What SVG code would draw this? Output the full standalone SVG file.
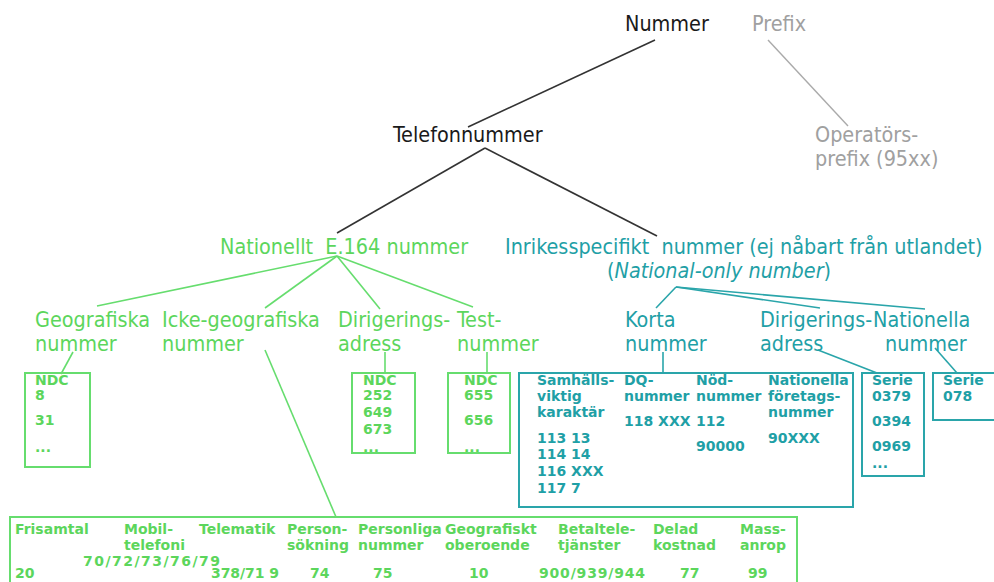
<svg xmlns="http://www.w3.org/2000/svg" width="994" height="582" viewBox="0 0 994 582">
<style>
.lbl{font-family:"DejaVu Sans Condensed","DejaVu Sans",sans-serif;font-size:21.4px;font-stretch:condensed}
.blk{fill:#1a1a1a}
.gry{fill:#a0a0a0}
.grn{fill:#5cd65c}
.tea{fill:#1fa0a6}
.bt{font-family:"DejaVu Sans","Verdana",sans-serif;font-size:14px;font-weight:bold}
.box-g{fill:none;stroke:#66dd6e;stroke-width:2}
.box-t{fill:none;stroke:#2aa5aa;stroke-width:2}
.lg{stroke:#66dd6e;stroke-width:1.6;fill:none}
.lt{stroke:#2aa5aa;stroke-width:1.6;fill:none}
.lk{stroke:#333;stroke-width:1.6;fill:none}
.lgr{stroke:#aaaaaa;stroke-width:1.4;fill:none}
</style>
<g id="connectors">
<line class="lk" x1="655" y1="40" x2="468" y2="127"/>
<line class="lgr" x1="768" y1="40" x2="848" y2="126"/>
<line class="lk" x1="485" y1="148" x2="337" y2="233"/>
<line class="lk" x1="485" y1="148" x2="657" y2="236"/>
<line class="lg" x1="337" y1="256" x2="97" y2="306"/>
<line class="lg" x1="337" y1="256" x2="265" y2="308"/>
<line class="lg" x1="337" y1="256" x2="380" y2="309"/>
<line class="lg" x1="337" y1="256" x2="473" y2="307"/>
<line class="lt" x1="676" y1="287" x2="656" y2="308"/>
<line class="lt" x1="676" y1="287" x2="820" y2="308"/>
<line class="lt" x1="676" y1="287" x2="925" y2="309"/>
<line class="lg" x1="73" y1="352" x2="61" y2="374"/>
<line class="lg" x1="265" y1="350" x2="336" y2="517"/>
<line class="lg" x1="385" y1="352" x2="385" y2="373"/>
<line class="lg" x1="487" y1="352" x2="487" y2="373"/>
<line class="lt" x1="663" y1="352" x2="663" y2="373"/>
<line class="lt" x1="818" y1="350" x2="877" y2="373"/>
<line class="lt" x1="935" y1="348" x2="957" y2="373"/>
</g>
<g id="nummer"><text class="lbl blk" x="625" y="31">Nummer</text></g>
<g id="prefix"><text class="lbl gry" x="752" y="31">Prefix</text></g>
<g id="telefonnummer"><text class="lbl blk" x="393" y="142">Telefonnummer</text></g>
<g id="operatorsprefix"><text class="lbl gry" x="815" y="142">Operatörs-</text><text class="lbl gry" x="815" y="166">prefix (95xx)</text></g>
<g id="nationellt"><text class="lbl grn" x="220" y="254" xml:space="preserve">Nationellt  E.164 nummer</text></g>
<g id="inrikes"><text class="lbl tea" x="505" y="254" xml:space="preserve">Inrikesspecifikt  nummer (ej nåbart från utlandet)</text><text class="lbl tea" x="607" y="278">(<tspan font-style="italic">National-only number</tspan>)</text></g>
<g id="geografiska"><text class="lbl grn" x="35" y="327">Geografiska</text><text class="lbl grn" x="35" y="351">nummer</text></g>
<g id="ickegeografiska"><text class="lbl grn" x="162" y="327">Icke-geografiska</text><text class="lbl grn" x="162" y="351">nummer</text></g>
<g id="dirigeringsadress-g"><text class="lbl grn" x="338" y="327">Dirigerings-</text><text class="lbl grn" x="338" y="351">adress</text></g>
<g id="testnummer"><text class="lbl grn" x="457" y="327">Test-</text><text class="lbl grn" x="457" y="351">nummer</text></g>
<g id="kortanummer"><text class="lbl tea" x="625" y="327">Korta</text><text class="lbl tea" x="625" y="351">nummer</text></g>
<g id="dirigeringsadress-t"><text class="lbl tea" x="760" y="327">Dirigerings-</text><text class="lbl tea" x="760" y="351">adress</text></g>
<g id="nationellanummer"><text class="lbl tea" x="873" y="327">Nationella</text><text class="lbl tea" x="885" y="351">nummer</text></g>
<g id="box-geo">
<rect class="box-g" x="25" y="373" width="65" height="94"/>
<text class="bt grn" x="35" y="385">NDC</text><text class="bt grn" x="35" y="400">8</text><text class="bt grn" x="35" y="425">31</text><text class="bt grn" x="35" y="452">...</text>
</g>
<g id="box-dir">
<rect class="box-g" x="352" y="373" width="63" height="80"/>
<text class="bt grn" x="363" y="385">NDC</text><text class="bt grn" x="363" y="400">252</text><text class="bt grn" x="363" y="417">649</text><text class="bt grn" x="363" y="434">673</text><text class="bt grn" x="363" y="452">...</text>
</g>
<g id="box-test">
<rect class="box-g" x="448" y="373" width="62" height="80"/>
<text class="bt grn" x="464" y="385">NDC</text><text class="bt grn" x="464" y="400">655</text><text class="bt grn" x="464" y="425">656</text><text class="bt grn" x="464" y="452">...</text>
</g>
<g id="box-korta">
<rect class="box-t" x="519" y="373" width="334" height="134"/>
<text class="bt tea" x="537" y="385">Samhälls-</text><text class="bt tea" x="537" y="401">viktig</text><text class="bt tea" x="537" y="417">karaktär</text>
<text class="bt tea" x="537" y="443">113 13</text><text class="bt tea" x="537" y="459">114 14</text><text class="bt tea" x="537" y="476">116 XXX</text><text class="bt tea" x="537" y="493">117 7</text>
<text class="bt tea" x="624" y="385">DQ-</text><text class="bt tea" x="624" y="401">nummer</text><text class="bt tea" x="624" y="426">118 XXX</text>
<text class="bt tea" x="696" y="385">Nöd-</text><text class="bt tea" x="696" y="401">nummer</text><text class="bt tea" x="696" y="426">112</text><text class="bt tea" x="696" y="451">90000</text>
<text class="bt tea" x="768" y="385">Nationella</text><text class="bt tea" x="768" y="401">företags-</text><text class="bt tea" x="768" y="417">nummer</text><text class="bt tea" x="768" y="443">90XXX</text>
</g>
<g id="box-serie">
<rect class="box-t" x="862" y="373" width="62" height="103"/>
<text class="bt tea" x="872" y="385">Serie</text><text class="bt tea" x="872" y="401">0379</text><text class="bt tea" x="872" y="426">0394</text><text class="bt tea" x="872" y="451">0969</text><text class="bt tea" x="872" y="468">...</text>
</g>
<g id="box-078">
<rect class="box-t" x="933" y="373" width="70" height="47"/>
<text class="bt tea" x="943" y="385">Serie</text><text class="bt tea" x="943" y="401">078</text>
</g>
<g id="box-ickegeo">
<rect class="box-g" x="10" y="517" width="787" height="80"/>
<text class="bt grn" x="15" y="534">Frisamtal</text>
<text class="bt grn" x="124" y="534">Mobil-</text><text class="bt grn" x="124" y="550">telefoni</text>
<text class="bt grn" x="199" y="534">Telematik</text>
<text class="bt grn" x="287" y="534">Person-</text><text class="bt grn" x="287" y="550">sökning</text>
<text class="bt grn" x="358" y="534">Personliga</text><text class="bt grn" x="358" y="550">nummer</text>
<text class="bt grn" x="445" y="534">Geografiskt</text><text class="bt grn" x="445" y="550">oberoende</text>
<text class="bt grn" x="558" y="534">Betaltele-</text><text class="bt grn" x="558" y="550">tjänster</text>
<text class="bt grn" x="653" y="534">Delad</text><text class="bt grn" x="653" y="550">kostnad</text>
<text class="bt grn" x="740" y="534">Mass-</text><text class="bt grn" x="740" y="550">anrop</text>
<text class="bt grn" x="83" y="566" textLength="137" lengthAdjust="spacing">70/72/73/76/79</text>
<text class="bt grn" x="15" y="578">20</text>
<text class="bt grn" x="211" y="578" textLength="68" lengthAdjust="spacing">378/71 9</text>
<text class="bt grn" x="310" y="578">74</text>
<text class="bt grn" x="373" y="578">75</text>
<text class="bt grn" x="469" y="578">10</text>
<text class="bt grn" x="539" y="578" textLength="106" lengthAdjust="spacing">900/939/944</text>
<text class="bt grn" x="680" y="578">77</text>
<text class="bt grn" x="748" y="578">99</text>
</g>
</svg>
